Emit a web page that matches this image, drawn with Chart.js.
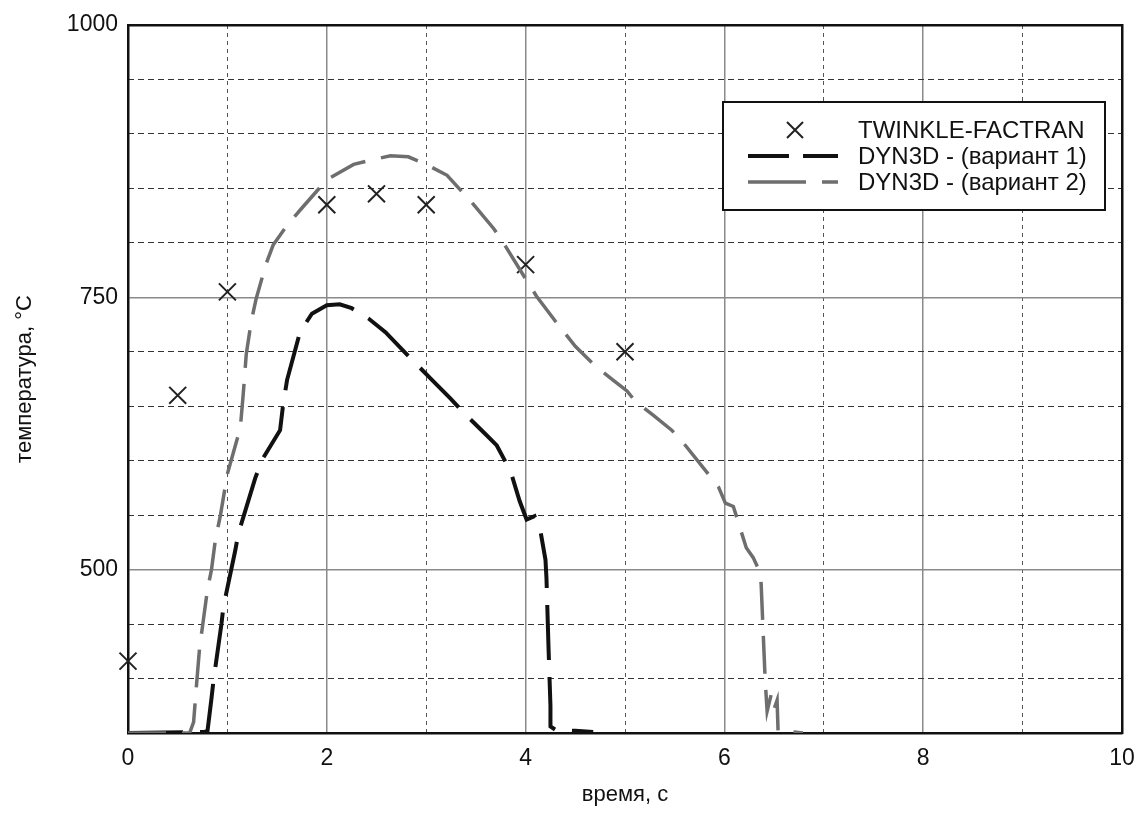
<!DOCTYPE html>
<html>
<head>
<meta charset="utf-8">
<script src="https://cdn.jsdelivr.net/npm/chart.js@4/dist/chart.umd.min.js"></script>
<style>
  html, body { margin: 0; padding: 0; background: #fff; }
  #wrap { width: 1140px; height: 821px; }
</style>
</head>
<body>
<div id="wrap"><canvas id="temp-chart" width="1140" height="821"></canvas></div>
<script>
// axis ticks
const xMajorTicks = [0, 2, 4, 6, 8, 10];
const xMinorTicks = [1, 3, 5, 7, 9];
const yMajorTicks = [500, 750, 1000];
const yMinorTicks = [400, 450, 550, 600, 650, 700, 800, 850, 900, 950];

// TWINKLE-FACTRAN (crosses)
const twinkleTime = [0, 0.5, 1, 2, 2.5, 3, 4, 5];
const twinkleTemp = [416, 660, 755, 835, 845, 835, 780, 700];

// DYN3D - (вариант 1)
const var1Time = [0, 0.77, 0.80, 0.84, 0.86, 0.94, 0.96, 1.08, 1.11, 1.28, 1.35, 1.53, 1.56, 1.60, 1.73, 1.85, 2.0, 2.13, 2.25, 2.42, 2.59, 2.8, 3.06, 3.24, 3.40, 3.59, 3.71, 3.85, 3.94, 4.01, 4.09, 4.15, 4.20, 4.21, 4.23, 4.25, 4.25, 4.30, 4.50, 4.68];
const var1Temp = [350, 351, 352, 382, 398, 450, 466, 518, 533, 584, 601, 628, 651, 674, 718, 735, 742.7, 743.6, 740, 730.5, 718, 698, 674, 657.5, 642, 625, 614, 590, 563, 546, 549, 535, 509, 492, 430, 375, 356, 353, 352, 351];

// DYN3D - (вариант 2)
const var2Time = [0, 0.62, 0.66, 0.69, 0.72, 0.76, 0.80, 0.84, 0.88, 0.93, 1.0, 1.08, 1.13, 1.16, 1.19, 1.24, 1.29, 1.39, 1.46, 1.60, 1.75, 2.0, 2.27, 2.45, 2.64, 2.82, 3.0, 3.21, 3.45, 3.68, 3.79, 4.0, 4.11, 4.3, 4.5, 4.7, 4.88, 5.02, 5.10, 5.28, 5.47, 5.59, 5.94, 6.01, 6.09, 6.22, 6.29, 6.36, 6.37, 6.41, 6.43, 6.47, 6.50, 6.53, 6.54, 6.70, 6.79];
const var2Temp = [350, 350, 360, 395, 428, 455, 482, 500, 528, 550, 588, 614, 630, 662, 698, 728, 749, 781, 798, 816, 832, 858, 872, 876, 880, 879, 872, 862, 838, 813, 798, 767, 751, 728, 705, 687, 674, 664, 655, 642, 628, 616, 576, 561, 558, 520, 511, 497, 486, 399, 370, 385, 372, 380, 352, 351, 350];

const legendLabels = ['TWINKLE-FACTRAN', 'DYN3D - (вариант 1)', 'DYN3D - (вариант 2)'];

const toPoints = (xs, ys) => xs.map((x, i) => ({ x: x, y: ys[i] }));
const FONT = 'Arial, "Liberation Sans", Helvetica, sans-serif';

const setTicks = (values) => (scale) => {
  scale.ticks = values.map(v => ({ value: v }));
};
const fixWidth = (w) => (scale) => { scale.width = w; scale.paddingTop = 0; scale.paddingBottom = 0; };
const fixHeight = (h) => (scale) => { scale.height = h; scale.paddingLeft = 0; scale.paddingRight = 0; };
const plainLabel = (v) => String(v);

// legend box drawn on top, MATLAB style
const legendBox = {
  id: 'legendBox',
  afterDatasetsDraw(chart) {
    const ctx = chart.ctx;
    const left = 723, top = 102, right = 1105, bottom = 210;
    ctx.save();
    ctx.fillStyle = '#fff';
    ctx.fillRect(left, top, right - left, bottom - top);
    ctx.lineWidth = 2;
    ctx.strokeStyle = '#111';
    ctx.strokeRect(left, top, right - left, bottom - top);

    const rows = [130, 156, 182];
    ctx.strokeStyle = '#222';
    ctx.lineWidth = 2;
    ctx.beginPath();
    ctx.moveTo(787, rows[0] - 8); ctx.lineTo(803, rows[0] + 8);
    ctx.moveTo(803, rows[0] - 8); ctx.lineTo(787, rows[0] + 8);
    ctx.stroke();

    ctx.lineCap = 'butt';
    ctx.strokeStyle = '#111';
    ctx.lineWidth = 4;
    ctx.setLineDash([41, 14]);
    ctx.beginPath(); ctx.moveTo(748, rows[1]); ctx.lineTo(838, rows[1]); ctx.stroke();

    ctx.strokeStyle = '#6e6e6e';
    ctx.lineWidth = 3.5;
    ctx.setLineDash([58, 16]);
    ctx.beginPath(); ctx.moveTo(748, rows[2]); ctx.lineTo(838, rows[2]); ctx.stroke();
    ctx.setLineDash([]);

    ctx.fillStyle = '#111';
    ctx.font = '24px ' + FONT;
    ctx.textBaseline = 'middle';
    ctx.textAlign = 'left';
    legendLabels.forEach((t, i) => ctx.fillText(t, 858, rows[i] + 1));
    ctx.restore();
  }
};

const config = {
  data: {
    datasets: [
      {
        type: 'line',
        label: legendLabels[2],
        data: toPoints(var2Time, var2Temp),
        borderColor: '#6e6e6e',
        borderWidth: 3.5,
        borderDash: [38, 16],
        pointRadius: 0,
        tension: 0,
        fill: false
      },
      {
        type: 'line',
        label: legendLabels[1],
        data: toPoints(var1Time, var1Temp),
        borderColor: '#111',
        borderWidth: 4,
        borderDash: [55, 17],
        pointRadius: 0,
        tension: 0,
        fill: false
      },
      {
        type: 'scatter',
        label: legendLabels[0],
        data: toPoints(twinkleTime, twinkleTemp),
        pointStyle: 'crossRot',
        pointRadius: 12,
        pointBorderWidth: 2,
        borderColor: '#222',
        backgroundColor: '#222',
        clip: false
      }
    ]
  },
  options: {
    responsive: false,
    animation: false,
    events: [],
    layout: { padding: { top: 25, right: 18, left: 0, bottom: 0 } },
    plugins: { legend: { display: false }, tooltip: { enabled: false } },
    scales: {
      x: {
        type: 'linear', position: 'bottom', min: 0, max: 10,
        afterBuildTicks: setTicks(xMajorTicks),
        afterFit: fixHeight(88),
        grid: { color: '#8a8a8a', lineWidth: 1.5, drawTicks: false },
        border: { display: true, color: '#111', width: 2.5 },
        ticks: { color: '#111', padding: 12, font: { family: FONT, size: 23 }, maxRotation: 0, callback: plainLabel },
        title: { display: true, text: 'время, с', color: '#111', font: { family: FONT, size: 22 }, padding: { top: 0, bottom: 13 } }
      },
      xm: {
        type: 'linear', position: 'bottom', min: 0, max: 10,
        afterBuildTicks: setTicks(xMinorTicks),
        afterFit: fixHeight(0),
        grid: { color: '#555', lineWidth: 1, drawTicks: false },
        border: { display: false, dash: [4, 4] },
        ticks: { display: false }
      },
      xt: {
        type: 'linear', position: 'top', min: 0, max: 10,
        afterFit: fixHeight(0),
        grid: { display: false, drawTicks: false },
        border: { display: true, color: '#111', width: 2.5 },
        ticks: { display: false }
      },
      y: {
        type: 'linear', position: 'left', min: 350, max: 1000,
        afterBuildTicks: setTicks(yMajorTicks),
        afterFit: fixWidth(128),
        grid: { color: '#8a8a8a', lineWidth: 1.5, drawTicks: false },
        border: { display: true, color: '#111', width: 2.5 },
        ticks: { color: '#111', padding: 10, font: { family: FONT, size: 23 }, callback: plainLabel },
        title: { display: true, text: 'температура, °C', color: '#111', font: { family: FONT, size: 22 }, padding: { top: 12, bottom: 0 } }
      },
      ym: {
        type: 'linear', position: 'left', min: 350, max: 1000,
        afterBuildTicks: setTicks(yMinorTicks),
        afterFit: fixWidth(0),
        grid: { color: '#333', lineWidth: 1, drawTicks: false },
        border: { display: false, dash: [6, 4] },
        ticks: { display: false }
      },
      yr: {
        type: 'linear', position: 'right', min: 350, max: 1000,
        afterFit: fixWidth(0),
        grid: { display: false, drawTicks: false },
        border: { display: true, color: '#111', width: 2.5 },
        ticks: { display: false }
      }
    }
  },
  plugins: [legendBox]
};

new Chart(document.getElementById('temp-chart'), config);
</script>
</body>
</html>
